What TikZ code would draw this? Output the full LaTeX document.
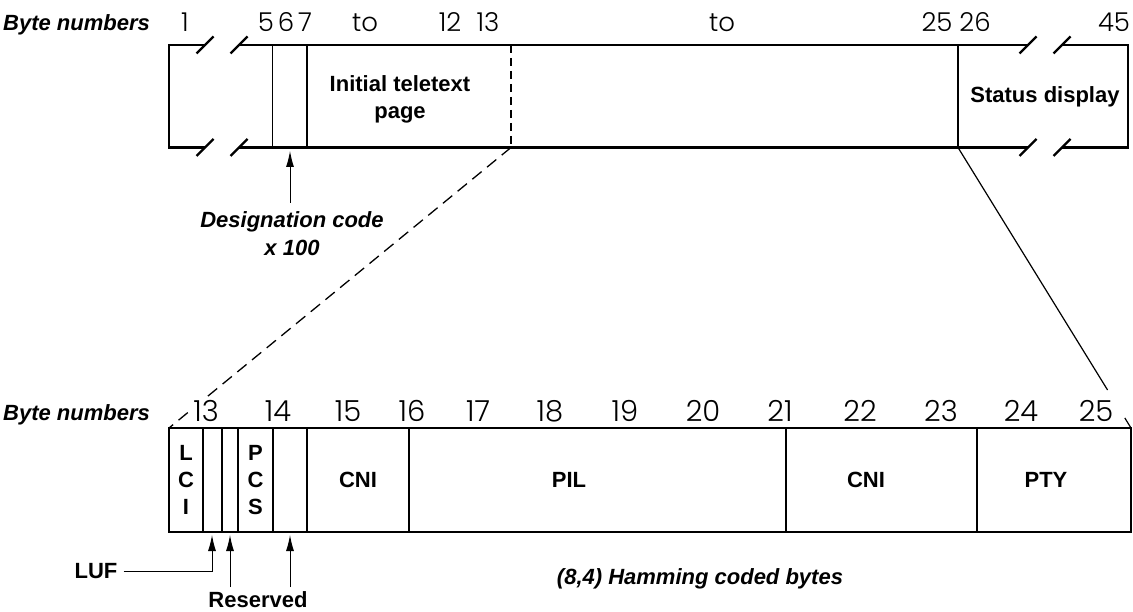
\documentclass[tikz,border=0pt]{standalone}
\usepackage{fontspec}
\setmainfont{Liberation Sans}
\newfontfamily\numfont{Poppins Light}
\usetikzlibrary{arrows.meta,calc}
\begin{document}
\begin{tikzpicture}[x=1pt,y=-1pt,
  thickline/.style={line width=2.4pt},
  thinline/.style={line width=1.2pt},
  slash/.style={line width=2.4pt},
  lab/.style={font=\fontsize{22}{27}\selectfont\bfseries, inner sep=0pt, align=center},
  ilab/.style={font=\fontsize{22}{28}\selectfont\bfseries\itshape, inner sep=0pt, align=center},
  topnum/.style={font=\numfont\fontsize{26}{26}\selectfont, anchor=base, inner sep=1pt},
  lownum/.style={font=\numfont\fontsize{29}{29}\selectfont, anchor=base, inner sep=3pt, fill=white},
  arr/.style={line width=1pt, -{Latex[length=16pt,width=8pt]}},
  dashv/.style={line width=1.4pt, dash pattern=on 8pt off 5pt},
  dashd/.style={line width=1.3pt, dash pattern=on 12pt off 7pt}
]
\useasboundingbox (0,0) rectangle (1133,612);

% ---------- top bar coordinates
\coordinate (tTL) at (169,45);
\coordinate (tBL) at (169,147.5);
\coordinate (tTR) at (1128,45);
\coordinate (tBR) at (1128,147.5);
\coordinate (t12T) at (511,45);
\coordinate (t12B) at (511,147.5);
\coordinate (t25T) at (958,45);
\coordinate (t25B) at (958,147.5);

% top bar outline with breaks
\draw[thickline] (205,45) -- (tTL) -- (tBL) -- (205,147.5);
\draw[thickline] (239,45) -- (1028,45);
\draw[thickline] (239,147.5) -- (1028,147.5);
\draw[thickline] (1062,45) -- (tTR) -- (tBR) -- (1062,147.5);
% break slashes
\foreach \sx in {205,239,1028,1062}{
  \draw[slash] (\sx,45) ++(-8.5,8.5) -- ++(17,-17);
  \draw[slash] (\sx,147.5) ++(-8.5,8.5) -- ++(17,-17);
}
% inner verticals
\draw[thinline] (272.7,45) -- (272.7,147.5);
\draw[thinline] (307,45) -- (307,147.5);
\draw[thinline] (t25T) -- (t25B);
\draw[dashv] (t12T) -- (t12B);

% top labels
\node[ilab, anchor=base west] (bn1) at (3,31) {Byte numbers};
\node[topnum] (n1) at (185,32) {1};
\node[topnum] (n5) at (266,32) {5};
\node[topnum] (n6) at (286,32) {6};
\node[topnum] (n7) at (305,32) {7};
\node[topnum] (nto1) at (365,32) {to};
\node[topnum] (n12) at (450,32) {12};
\node[topnum] (n13) at (488,32) {13};
\node[topnum] (nto2) at (722,32) {to};
\node[topnum] (n25) at (937,32) {25};
\node[topnum] (n26) at (975,32) {26};
\node[topnum] (n45) at (1114,32) {45};

\node[lab, font=\fontsize{22}{27}\selectfont\bfseries] (itp) at (400,99) {Initial teletext\\page};
\node[lab] (sd) at (1045,97) {Status display};

% designation code
\coordinate (dtip) at (290,151);
\coordinate (dtail) at (290,203);
\draw[arr] (dtail) -- (dtip);
\node[ilab] (desg) at (292,234) {Designation code\\x 100};

% ---------- lower bar
\coordinate (lTL) at (169,428);
\coordinate (lBL) at (169,532);
\coordinate (lTR) at (1131,428);
\coordinate (lBR) at (1131,532);

% expansion lines
\draw[dashd] (t12B) -- (lTL);
\draw[thinline] (t25B) -- ($(t25B)!0.8645!(lTR)$);
\draw[thinline] ($(t25B)!0.964!(lTR)$) -- (lTR);

\draw[thickline] (lTL) rectangle (lBR);
\foreach \vx in {203,222,238,273,307,409,786,977}{
  \draw[thinline] (\vx,428) -- (\vx,532);
}

\node[lab, font=\fontsize{22}{27}\selectfont\bfseries] (lci) at (186,480) {L\\C\\I};
\node[lab, font=\fontsize{22}{27}\selectfont\bfseries] (pcs) at (255.5,480) {P\\C\\S};
\node[lab] (cni1) at (358,480) {CNI};
\node[lab] (pil) at (569,480) {PIL};
\node[lab] (cni2) at (866,480) {CNI};
\node[lab] (pty) at (1046,480) {PTY};

% lower labels
\node[ilab, anchor=base west] (bn2) at (3,420) {Byte numbers};
\node[lownum] (m13) at (206,421) {13};
\node[lownum] (m14) at (278,421) {14};
\node[lownum] (m15) at (348,421) {15};
\node[lownum] (m16) at (412,421) {16};
\node[lownum] (m17) at (478,421) {17};
\node[lownum] (m18) at (550,421) {18};
\node[lownum] (m19) at (625,421) {19};
\node[lownum] (m20) at (703,421) {20};
\node[lownum] (m21) at (780,421) {21};
\node[lownum] (m22) at (860,421) {22};
\node[lownum] (m23) at (941,421) {23};
\node[lownum] (m24) at (1021,421) {24};
\node[lownum] (m25) at (1096,421) {25};

% LUF and reserved arrows
\node[lab] (luf) at (96,571) {LUF};
\coordinate (lufc) at (212,571);
\coordinate (luftip) at (212,535);
\draw[arr, shorten <=6pt] (luf.east) -- (lufc) -- (luftip);

\node[lab] (res) at (258,600) {Reserved};
\coordinate (r1tail) at (230,587);
\coordinate (r1tip) at (230,535);
\coordinate (r2tail) at (290,587);
\coordinate (r2tip) at (290,535);
\draw[arr] (r1tail) -- (r1tip);
\draw[arr] (r2tail) -- (r2tip);

\node[ilab] (ham) at (700,579) {(8,4) Hamming coded bytes};
\end{tikzpicture}
\end{document}
